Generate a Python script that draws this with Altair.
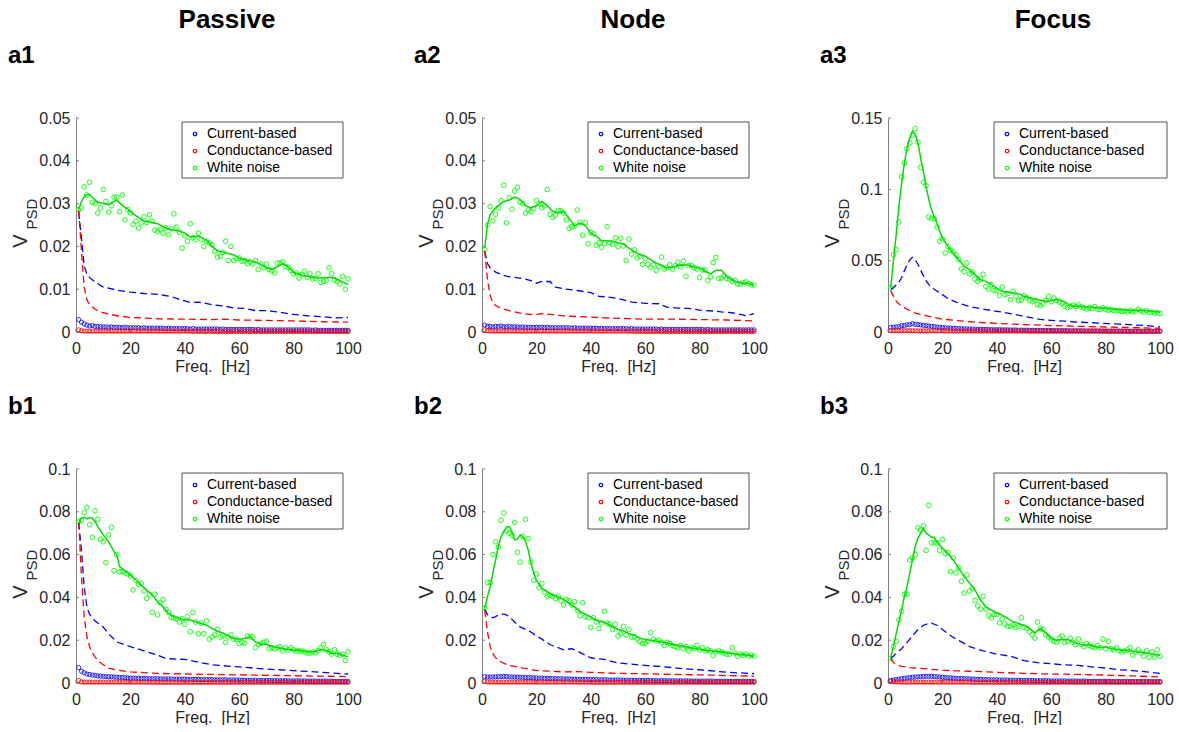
import altair as alt
import pandas as pd

FONT = "Liberation Sans"
FREQ = list(range(1, 101))
XTICKS = [0, 20, 40, 60, 80, 100]
LEGEND_NAMES = ["Current-based", "Conductance-based", "White noise"]
COL_TITLES = ["Passive", "Node", "Focus"]
TAGS = [["a1", "a2", "a3"], ["b1", "b2", "b3"]]
YMAX = [[0.05, 0.05, 0.15], [0.1, 0.1, 0.1]]
YTICKS = [[[0, 0.01, 0.02, 0.03, 0.04, 0.05], [0, 0.01, 0.02, 0.03, 0.04, 0.05], [0, 0.05, 0.1, 0.15]],
          [[0, 0.02, 0.04, 0.06, 0.08, 0.1]] * 3]

# ---------------- a1 : Passive, white-noise row a ----------------
a1_green_pts = [.0286,.0290,.0339,.0320,.0350,.0303,.0300,.0278,.0290,.0333,
                .0305,.0280,.0295,.0315,.0315,.0281,.0320,.0262,.0286,.0278,
                .0251,.0259,.0243,.0255,.0269,.0256,.0274,.0259,.0238,.0235,
                .0239,.0231,.0243,.0227,.0241,.0276,.0245,.0233,.0196,.0224,
                .0212,.0253,.0220,.0216,.0231,.0216,.0200,.0212,.0208,.0204,
                .0188,.0175,.0177,.0186,.0212,.0167,.0200,.0167,.0171,.0173,
                .0165,.0167,.0160,.0164,.0159,.0167,.0146,.0159,.0150,.0159,
                .0146,.0142,.0138,.0161,.0161,.0164,.0153,.0151,.0144,.0136,
                .0138,.0126,.0134,.0142,.0128,.0136,.0124,.0125,.0136,.0116,
                .0118,.0120,.0150,.0136,.0122,.0118,.0112,.0130,.0100,.0124]
a1_green_f = [1,2,3,4,5,6,8,10,12,14,15,17,20,22,25,28,30,33,35,38,40,42,45,48,50,52,55,58,60,63,65,68,70,72,74,76,78,80,83,85,88,90,93,95,98,100]
a1_green_v = [.0287,.0305,.0316,.0321,.0322,.0315,.0303,.0300,.0298,.0305,.0308,.0296,.0282,.0272,.0259,.0256,.0253,.0243,.0239,.0236,.0231,.0222,.0224,.0214,.0200,.0190,.0185,.0180,.0173,.0167,.0165,.0158,.0150,.0146,.0152,.0160,.0152,.0139,.0133,.0130,.0127,.0126,.0128,.0126,.0117,.0111]
a1_blue_f = [1,2,3,4,5,7,10,15,20,25,30,35,38,42,45,50,55,58,62,66,70,75,80,85,90,95,100]
a1_blue_v = [.0280,.0220,.0155,.0135,.0127,.0117,.0105,.0098,.0093,.0090,.0088,.0083,.0076,.0069,.0070,.0064,.0060,.0056,.0055,.0050,.0050,.0046,.0041,.0038,.0036,.0033,.0034]
a1_red_f = [1,2,3,4,5,7,9,12,15,20,30,40,50,55,60,70,80,90,100]
a1_red_v = [.0285,.0190,.0105,.0075,.0064,.0053,.0047,.0042,.0038,.0034,.0031,.0030,.0029,.0030,.0028,.0027,.0026,.0024,.0023]
a1_blue_pts = [.0029,.0023,.0019,.0016,.0014,.0015,.0013,.0013,.0012,.0012,
               .0012,.0011,.0012,.0011,.0011,.0011,.0010,.0011,.0010,.0010,
               .0010,.0010,.0010,.0009,.0010,.0009,.0009,.0009,.0009,.0009,
               .0009,.0009,.0008,.0009,.0008,.0008,.0008,.0008,.0008,.0008,
               .0008,.0007,.0008,.0007,.0007,.0007,.0007,.0007,.0007,.0007,
               .0007,.0007,.0006,.0007,.0006,.0006,.0006,.0006,.0006,.0006,
               .0006,.0006,.0006,.0006,.0006,.0005,.0006,.0005,.0005,.0005,
               .0005,.0005,.0005,.0005,.0005,.0005,.0005,.0005,.0005,.0005,
               .0005,.0005,.0005,.0005,.0005,.0005,.0004,.0005,.0004,.0004,
               .0004,.0004,.0004,.0004,.0004,.0004,.0004,.0004,.0004,.0004]
a1_red_pts = [.0005,.0003,.0002,.0002,.0002,.0002,.0002,.0002,.0002,.0002,
              .0002,.0002,.0002,.0002,.0002,.0002,.0002,.0002,.0002,.0002,
              .0002,.0002,.0002,.0002,.0002,.0002,.0002,.0002,.0002,.0002,
              .0002,.0002,.0002,.0002,.0002,.0002,.0002,.0002,.0002,.0002,
              .0002,.0002,.0001,.0002,.0001,.0002,.0001,.0001,.0002,.0001,
              .0001,.0001,.0001,.0001,.0001,.0001,.0001,.0001,.0001,.0001,
              .0001,.0001,.0001,.0001,.0001,.0001,.0001,.0001,.0001,.0001,
              .0001,.0001,.0001,.0001,.0001,.0001,.0001,.0001,.0001,.0001,
              .0001,.0001,.0001,.0001,.0001,.0001,.0001,.0001,.0001,.0001,
              .0001,.0001,.0001,.0001,.0001,.0001,.0001,.0001,.0001,.0001]

# ---------------- a2 : Node ----------------
a2_green_pts = [.0192,.0250,.0293,.0260,.0275,.0290,.0307,.0343,.0255,.0314,
                .0287,.0329,.0338,.0303,.0300,.0278,.0285,.0281,.0288,.0307,
                .0300,.0290,.0295,.0333,.0275,.0268,.0273,.0284,.0283,.0278,
                .0262,.0242,.0246,.0248,.0285,.0256,.0226,.0256,.0206,.0232,
                .0229,.0203,.0208,.0198,.0206,.0246,.0209,.0205,.0220,.0199,
                .0219,.0201,.0167,.0217,.0182,.0192,.0173,.0177,.0158,.0172,
                .0158,.0151,.0157,.0144,.0153,.0175,.0147,.0150,.0157,.0147,
                .0155,.0163,.0152,.0166,.0130,.0155,.0156,.0150,.0147,.0127,
                .0145,.0145,.0120,.0128,.0162,.0174,.0125,.0126,.0131,.0125,
                .0124,.0118,.0121,.0112,.0112,.0115,.0117,.0113,.0110,.0110]
a2_green_f = [1,2,3,5,8,10,12,14,16,18,20,22,24,26,28,30,32,34,36,38,40,42,44,46,48,50,52,54,56,58,60,62,64,66,68,70,72,74,76,78,80,82,84,86,88,90,92,94,96,98,100]
a2_green_v = [.0196,.0251,.0274,.0290,.0305,.0308,.0315,.0310,.0295,.0290,.0295,.0305,.0295,.0282,.0278,.0282,.0266,.0248,.0255,.0248,.0231,.0224,.0213,.0213,.0212,.0208,.0206,.0196,.0188,.0181,.0177,.0169,.0161,.0156,.0150,.0151,.0156,.0157,.0156,.0152,.0150,.0142,.0136,.0144,.0144,.0130,.0122,.0116,.0114,.0114,.0109]
a2_blue_f = [1,2,3,5,8,10,15,18,20,22,25,27,30,35,40,43,46,50,55,60,65,68,72,76,80,85,88,92,95,97,100]
a2_blue_v = [.0188,.0160,.0150,.0140,.0132,.0129,.0125,.0120,.0114,.0118,.0118,.0105,.0101,.0097,.0092,.0083,.0082,.0078,.0070,.0067,.0066,.0058,.0056,.0055,.0051,.0049,.0047,.0045,.0041,.0038,.0043]
a2_red_f = [1,2,3,4,5,7,10,15,19,22,25,31,40,45,50,60,70,80,90,100]
a2_red_v = [.0190,.0122,.0085,.0068,.0062,.0055,.0050,.0043,.0040,.0043,.0041,.0037,.0035,.0033,.0032,.0030,.0030,.0029,.0028,.0026]
a2_blue_pts = [.0016,.0013,.0013,.0012,.0013,.0013,.0014,.0012,.0012,.0013,
               .0012,.0012,.0012,.0011,.0012,.0011,.0011,.0011,.0011,.0011,
               .0011,.0011,.0010,.0011,.0010,.0010,.0010,.0010,.0010,.0010,
               .0010,.0010,.0009,.0010,.0009,.0009,.0009,.0009,.0009,.0009,
               .0009,.0009,.0008,.0009,.0008,.0008,.0008,.0008,.0008,.0008,
               .0008,.0008,.0008,.0007,.0008,.0007,.0007,.0007,.0007,.0007,
               .0007,.0007,.0007,.0007,.0006,.0007,.0006,.0006,.0006,.0006,
               .0006,.0006,.0006,.0006,.0006,.0006,.0006,.0006,.0006,.0006,
               .0006,.0005,.0006,.0005,.0005,.0005,.0005,.0005,.0005,.0005,
               .0005,.0005,.0005,.0005,.0005,.0005,.0005,.0005,.0005,.0005]
a2_red_pts = [.0005,.0003,.0002,.0002,.0002,.0002,.0002,.0002,.0002,.0002,
              .0002,.0002,.0002,.0002,.0002,.0002,.0002,.0002,.0002,.0002,
              .0002,.0002,.0002,.0002,.0002,.0002,.0002,.0002,.0002,.0002,
              .0002,.0002,.0002,.0002,.0002,.0002,.0002,.0002,.0002,.0002,
              .0002,.0002,.0002,.0002,.0002,.0002,.0002,.0002,.0002,.0002,
              .0002,.0002,.0002,.0002,.0002,.0001,.0002,.0001,.0002,.0001,
              .0001,.0001,.0001,.0001,.0001,.0001,.0001,.0001,.0001,.0001,
              .0001,.0001,.0001,.0001,.0001,.0001,.0001,.0001,.0001,.0001,
              .0001,.0001,.0001,.0001,.0001,.0001,.0001,.0001,.0001,.0001,
              .0001,.0001,.0001,.0001,.0001,.0001,.0001,.0001,.0001,.0001]

# ---------------- a3 : Focus ----------------
a3_green_pts = [.0310,.0542,.0577,.0771,.1086,.1185,.1285,.1325,.1380,.1425,
                .1330,.1154,.1050,.1026,.0806,.0794,.0794,.0736,.0636,.0652,
                .0554,.0600,.0572,.0560,.0540,.0507,.0442,.0425,.0484,.0407,
                .0420,.0371,.0355,.0371,.0404,.0320,.0301,.0332,.0290,.0290,
                .0255,.0315,.0262,.0269,.0227,.0285,.0250,.0220,.0222,.0255,
                .0240,.0222,.0212,.0222,.0192,.0185,.0200,.0220,.0250,.0212,
                .0238,.0220,.0210,.0200,.0182,.0172,.0180,.0188,.0178,.0190,
                .0176,.0168,.0162,.0170,.0165,.0178,.0160,.0158,.0170,.0160,
                .0152,.0158,.0150,.0148,.0152,.0145,.0146,.0140,.0150,.0142,
                .0145,.0160,.0148,.0140,.0150,.0136,.0138,.0132,.0135,.0130]
a3_green_f = [1,2,3,4,5,6,7,8,9,10,11,12,13,14,15,16,17,18,19,20,22,24,26,28,30,32,34,36,38,40,42,44,46,48,50,54,58,60,62,64,66,68,70,75,80,85,90,95,100]
a3_green_v = [.0310,.0500,.0680,.0880,.1040,.1180,.1290,.1360,.1407,.1385,.1325,.1220,.1126,.1020,.0928,.0857,.0810,.0764,.0706,.0659,
              .0600,.0554,.0507,.0460,.0437,.0402,.0367,.0355,.0332,.0308,.0285,.0278,.0273,.0269,.0250,
              .0231,.0215,.0220,.0227,.0220,.0199,.0180,.0180,.0173,.0166,.0157,.0150,.0150,.0138]
a3_blue_f = [1,2,3,4,5,6,7,8,9,10,11,12,13,14,15,17,20,22,25,28,30,35,40,44,50,56,60,65,69,75,81,85,90,95,100]
a3_blue_v = [.0300,.0310,.0330,.0350,.0380,.0430,.0470,.0505,.0523,.0505,.0475,.0435,.0395,.0360,.0332,
             .0300,.0262,.0235,.0210,.0190,.0178,.0160,.0145,.0133,.0110,
             .0088,.0082,.0076,.0070,.0065,.0058,.0055,.0050,.0045,.0035]
a3_red_f = [1,2,3,5,8,10,15,20,30,40,50,60,70,80,90,100]
a3_red_v = [.0290,.0250,.0215,.0180,.0150,.0133,.0110,.0090,.0072,.0060,.0052,.0045,.0040,.0035,.0031,.0026]
a3_blue_pts = [.0033,.0034,.0036,.0038,.0044,.0046,.0050,.0052,.0058,.0054,
               .0052,.0050,.0047,.0045,.0042,.0040,.0037,.0035,.0033,.0031,
               .0030,.0028,.0027,.0026,.0025,.0024,.0023,.0022,.0022,.0021,
               .0020,.0020,.0019,.0019,.0018,.0018,.0017,.0017,.0016,.0016,
               .0016,.0015,.0015,.0015,.0014,.0014,.0014,.0013,.0013,.0013,
               .0013,.0012,.0012,.0012,.0012,.0011,.0011,.0011,.0011,.0011,
               .0010,.0010,.0010,.0010,.0010,.0009,.0009,.0009,.0009,.0009,
               .0009,.0008,.0008,.0008,.0008,.0008,.0008,.0008,.0007,.0007,
               .0007,.0007,.0007,.0007,.0007,.0007,.0007,.0006,.0006,.0006,
               .0006,.0006,.0006,.0006,.0006,.0006,.0006,.0006,.0006,.0006]
a3_red_pts = [.0010,.0009,.0009,.0009,.0009,.0009,.0009,.0009,.0009,.0008,
              .0008,.0008,.0008,.0008,.0008,.0008,.0008,.0008,.0008,.0008,
              .0007,.0007,.0007,.0007,.0007,.0007,.0007,.0007,.0007,.0007,
              .0006,.0006,.0006,.0006,.0006,.0006,.0006,.0006,.0006,.0006,
              .0006,.0006,.0006,.0006,.0006,.0006,.0006,.0006,.0006,.0006,
              .0005,.0005,.0005,.0005,.0005,.0005,.0005,.0005,.0005,.0005,
              .0005,.0005,.0005,.0005,.0005,.0005,.0005,.0005,.0005,.0005,
              .0005,.0005,.0005,.0005,.0005,.0005,.0005,.0005,.0005,.0005,
              .0004,.0004,.0004,.0004,.0004,.0004,.0004,.0004,.0004,.0004,
              .0004,.0004,.0004,.0004,.0004,.0004,.0004,.0004,.0004,.0004]

# ---------------- b1 : Passive ----------------
b1_green_pts = [.0753,.0760,.0795,.0820,.0740,.0681,.0805,.0765,.0672,.0660,
                .0563,.0692,.0728,.0525,.0600,.0520,.0520,.0515,.0510,.0500,
                .0435,.0480,.0460,.0465,.0430,.0395,.0415,.0330,.0415,.0318,
                .0375,.0390,.0345,.0330,.0305,.0305,.0300,.0285,.0300,.0275,
                .0310,.0240,.0330,.0285,.0230,.0280,.0230,.0290,.0205,.0215,
                .0225,.0250,.0215,.0220,.0190,.0215,.0225,.0205,.0205,.0185,
                .0190,.0185,.0220,.0215,.0215,.0165,.0180,.0185,.0190,.0195,
                .0160,.0165,.0160,.0165,.0170,.0150,.0165,.0155,.0165,.0155,
                .0150,.0150,.0150,.0145,.0140,.0140,.0145,.0140,.0150,.0165,
                .0180,.0155,.0145,.0135,.0155,.0135,.0130,.0135,.0105,.0145]
b1_green_f = [1,2,3,4,5,6,7,8,10,12,14,15,16,18,20,22,24,26,28,30,32,34,36,38,40,42,44,46,48,50,52,54,56,58,60,62,64,66,68,70,72,74,76,78,80,82,84,86,88,90,92,94,96,98,100]
b1_green_v = [.0747,.0770,.0773,.0767,.0773,.0770,.0755,.0731,.0692,.0660,.0614,.0598,.0544,.0525,
              .0505,.0481,.0458,.0434,.0411,.0380,.0356,.0325,.0309,.0302,
              .0294,.0294,.0286,.0278,.0270,.0255,.0242,.0234,.0219,.0208,
              .0205,.0208,.0216,.0192,.0181,.0181,.0172,.0166,.0161,.0156,
              .0153,.0153,.0148,.0145,.0148,.0156,.0153,.0138,.0138,.0130,.0122]
b1_blue_f = [1,2,3,4,5,7,10,12,15,20,25,30,33,40,50,60,70,80,90,100]
b1_blue_v = [.0750,.0620,.0450,.0356,.0320,.0290,.0262,.0230,.0192,.0170,.0150,.0130,.0114,.0110,.0085,.0075,.0065,.0058,.0050,.0042]
b1_red_f = [1,2,3,4,5,6,7,8,10,12,15,20,30,40,50,60,70,80,90,100]
b1_red_v = [.0750,.0500,.0310,.0216,.0170,.0140,.0122,.0105,.0085,.0070,.0060,.0052,.0045,.0042,.0040,.0038,.0036,.0034,.0032,.0030]
b1_blue_pts = [.0072,.0055,.0048,.0042,.0040,.0037,.0036,.0033,.0032,.0031,
               .0030,.0029,.0029,.0028,.0027,.0026,.0026,.0025,.0024,.0023,
               .0023,.0022,.0022,.0021,.0021,.0021,.0020,.0020,.0020,.0020,
               .0019,.0019,.0019,.0019,.0019,.0018,.0018,.0018,.0018,.0018,
               .0017,.0017,.0017,.0017,.0017,.0016,.0016,.0016,.0016,.0016,
               .0015,.0015,.0015,.0015,.0015,.0014,.0014,.0014,.0014,.0014,
               .0013,.0013,.0013,.0013,.0013,.0013,.0012,.0012,.0012,.0012,
               .0012,.0011,.0011,.0011,.0011,.0011,.0011,.0010,.0010,.0010,
               .0010,.0010,.0010,.0010,.0009,.0009,.0009,.0009,.0009,.0009,
               .0009,.0009,.0008,.0008,.0008,.0008,.0008,.0008,.0008,.0008]
b1_red_pts = [.0012,.0005,.0004,.0004,.0004,.0004,.0004,.0004,.0004,.0004,
              .0004,.0004,.0004,.0004,.0004,.0004,.0004,.0004,.0004,.0004,
              .0004,.0004,.0004,.0004,.0004,.0003,.0004,.0003,.0004,.0003,
              .0003,.0003,.0003,.0003,.0003,.0003,.0003,.0003,.0003,.0003,
              .0003,.0003,.0003,.0003,.0003,.0003,.0003,.0003,.0003,.0003,
              .0003,.0003,.0003,.0003,.0003,.0003,.0003,.0003,.0003,.0003,
              .0003,.0003,.0003,.0003,.0003,.0003,.0003,.0003,.0003,.0003,
              .0003,.0003,.0003,.0003,.0003,.0003,.0003,.0003,.0003,.0003,
              .0003,.0003,.0003,.0003,.0003,.0003,.0003,.0003,.0003,.0003,
              .0003,.0003,.0003,.0003,.0003,.0003,.0003,.0003,.0003,.0003]

# ---------------- b2 : Node ----------------
b2_green_pts = [.0350,.0470,.0470,.0600,.0660,.0635,.0760,.0795,.0710,.0700,
                .0690,.0750,.0610,.0565,.0685,.0765,.0675,.0565,.0480,.0510,
                .0445,.0465,.0425,.0405,.0410,.0405,.0395,.0405,.0385,.0365,
                .0390,.0385,.0365,.0380,.0340,.0315,.0375,.0310,.0305,.0260,
                .0305,.0285,.0255,.0280,.0335,.0280,.0275,.0250,.0275,.0220,
                .0230,.0265,.0225,.0250,.0215,.0215,.0205,.0195,.0185,.0185,
                .0195,.0235,.0205,.0195,.0200,.0190,.0175,.0190,.0185,.0175,
                .0170,.0165,.0175,.0160,.0170,.0150,.0165,.0160,.0175,.0155,
                .0165,.0150,.0155,.0150,.0130,.0145,.0150,.0145,.0140,.0135,
                .0135,.0165,.0140,.0125,.0135,.0130,.0135,.0125,.0130,.0125]
b2_green_f = [1,2,3,4,5,6,7,8,9,10,11,12,13,14,15,16,17,18,19,20,
              22,24,26,28,30,32,34,36,38,40,42,44,46,48,50,52,54,56,58,60,62,64,66,68,70,
              74,78,82,86,90,94,98,100]
b2_green_v = [.0348,.0403,.0450,.0513,.0575,.0638,.0684,.0708,.0728,.0731,.0708,.0669,.0672,.0692,.0684,.0661,.0622,.0559,.0513,.0481,
              .0442,.0427,.0411,.0403,.0391,.0372,.0356,.0333,.0322,.0309,.0294,.0286,.0278,.0263,.0250,.0244,.0231,.0223,.0211,.0203,.0200,.0195,.0192,.0188,.0181,
              .0172,.0161,.0153,.0148,.0141,.0134,.0130,.0125]
b2_blue_f = [1,2,3,4,5,6,7,8,9,10,12,14,16,18,20,22,25,28,30,33,35,38,40,45,50,55,61,65,70,74,80,86,90,95,100]
b2_blue_v = [.0345,.0320,.0310,.0305,.0310,.0318,.0322,.0322,.0318,.0310,
             .0285,.0262,.0250,.0238,.0220,.0205,.0180,.0165,.0155,.0160,.0150,.0130,.0118,.0110,.0094,.0088,
             .0081,.0078,.0072,.0067,.0062,.0055,.0050,.0047,.0044]
b2_red_f = [1,2,3,4,5,7,10,15,20,25,30,35,40,50,60,70,80,90,100]
b2_red_v = [.0340,.0240,.0170,.0137,.0118,.0098,.0082,.0070,.0058,.0055,.0052,.0053,.0050,.0045,.0043,.0040,.0038,.0035,.0032]
b2_blue_pts = [.0030,.0028,.0028,.0028,.0029,.0029,.0030,.0031,.0030,.0029,
               .0028,.0028,.0027,.0027,.0026,.0026,.0025,.0025,.0024,.0024,
               .0023,.0023,.0022,.0022,.0021,.0021,.0020,.0020,.0020,.0019,
               .0019,.0019,.0018,.0018,.0018,.0017,.0017,.0017,.0016,.0016,
               .0016,.0016,.0015,.0015,.0015,.0015,.0014,.0014,.0014,.0014,
               .0014,.0013,.0013,.0013,.0013,.0013,.0012,.0012,.0012,.0012,
               .0012,.0012,.0011,.0011,.0011,.0011,.0011,.0011,.0010,.0010,
               .0010,.0010,.0010,.0010,.0010,.0010,.0009,.0009,.0009,.0009,
               .0009,.0009,.0009,.0009,.0009,.0008,.0008,.0008,.0008,.0008,
               .0008,.0008,.0008,.0008,.0008,.0008,.0008,.0008,.0008,.0008]
b2_red_pts = [.0008,.0005,.0004,.0004,.0004,.0004,.0004,.0004,.0004,.0004,
              .0004,.0004,.0004,.0004,.0004,.0004,.0004,.0004,.0004,.0004,
              .0004,.0004,.0004,.0004,.0004,.0004,.0004,.0004,.0004,.0004,
              .0004,.0004,.0004,.0004,.0004,.0003,.0004,.0003,.0004,.0003,
              .0003,.0003,.0003,.0003,.0003,.0003,.0003,.0003,.0003,.0003,
              .0003,.0003,.0003,.0003,.0003,.0003,.0003,.0003,.0003,.0003,
              .0003,.0003,.0003,.0003,.0003,.0003,.0003,.0003,.0003,.0003,
              .0003,.0003,.0003,.0003,.0003,.0003,.0003,.0003,.0003,.0003,
              .0003,.0003,.0003,.0003,.0003,.0003,.0003,.0003,.0003,.0003,
              .0003,.0003,.0003,.0003,.0003,.0003,.0003,.0003,.0003,.0003]

# ---------------- b3 : Focus ----------------
b3_green_pts = [.0115,.0170,.0195,.0295,.0335,.0415,.0415,.0575,.0585,.0600,
                .0725,.0715,.0735,.0620,.0830,.0655,.0655,.0655,.0620,.0670,
                .0605,.0610,.0520,.0585,.0515,.0540,.0475,.0420,.0505,.0430,
                .0440,.0385,.0360,.0345,.0405,.0345,.0315,.0305,.0320,.0320,
                .0280,.0300,.0275,.0265,.0265,.0270,.0260,.0265,.0305,.0260,
                .0255,.0240,.0225,.0210,.0285,.0255,.0250,.0225,.0215,.0205,
                .0195,.0190,.0210,.0220,.0190,.0195,.0210,.0190,.0180,.0205,
                .0180,.0170,.0185,.0175,.0170,.0165,.0175,.0165,.0205,.0160,
                .0195,.0160,.0155,.0165,.0150,.0145,.0150,.0155,.0165,.0130,
                .0145,.0155,.0140,.0125,.0150,.0120,.0145,.0120,.0155,.0125]
b3_green_f = [1,2,3,4,5,6,7,8,9,10,11,12,13,14,15,16,17,18,19,20,
              22,24,26,28,30,32,34,36,38,40,42,44,46,48,50,52,54,56,58,60,
              62,64,66,68,70,72,74,76,78,80,82,84,86,88,90,92,94,96,98,100]
b3_green_v = [.0119,.0169,.0231,.0286,.0341,.0403,.0450,.0513,.0575,.0638,.0677,.0700,.0723,.0700,.0692,.0681,.0681,.0661,.0645,.0630,
              .0606,.0575,.0536,.0497,.0466,.0434,.0388,.0356,.0341,.0328,.0317,.0302,.0286,.0278,.0270,.0255,.0234,.0255,.0234,.0208,
              .0200,.0203,.0203,.0192,.0184,.0177,.0177,.0169,.0166,.0169,.0161,.0156,.0153,.0153,.0148,.0145,.0141,.0138,.0134,.0130]
b3_blue_f = [1,2,3,5,7,9,11,13,15,16,18,20,22,25,28,30,35,40,45,50,55,60,65,70,75,80,85,90,95,100]
b3_blue_v = [.0115,.0125,.0140,.0160,.0190,.0220,.0250,.0270,.0278,.0280,.0270,.0250,.0230,.0205,.0185,.0170,.0150,.0135,.0125,.0105,.0095,.0090,.0085,.0082,.0075,.0070,.0062,.0058,.0052,.0045]
b3_red_f = [1,2,3,5,8,10,15,20,25,30,40,50,60,70,80,90,100]
b3_red_v = [.0115,.0095,.0085,.0078,.0072,.0070,.0065,.0060,.0057,.0055,.0050,.0045,.0042,.0040,.0037,.0033,.0028]
b3_blue_pts = [.0012,.0014,.0016,.0018,.0020,.0022,.0024,.0026,.0027,.0028,
               .0029,.0030,.0031,.0031,.0031,.0031,.0030,.0029,.0028,.0027,
               .0026,.0025,.0024,.0023,.0022,.0021,.0021,.0020,.0020,.0019,
               .0018,.0018,.0017,.0017,.0016,.0016,.0016,.0015,.0015,.0015,
               .0014,.0014,.0014,.0014,.0013,.0013,.0013,.0013,.0012,.0012,
               .0012,.0012,.0012,.0011,.0011,.0011,.0011,.0011,.0010,.0010,
               .0010,.0010,.0010,.0010,.0010,.0009,.0009,.0009,.0009,.0009,
               .0009,.0009,.0009,.0008,.0008,.0008,.0008,.0008,.0008,.0008,
               .0008,.0008,.0007,.0007,.0007,.0007,.0007,.0007,.0007,.0007,
               .0007,.0007,.0007,.0007,.0007,.0007,.0007,.0007,.0007,.0007]
b3_red_pts = [.0008,.0006,.0005,.0005,.0004,.0004,.0004,.0004,.0004,.0004,
              .0004,.0004,.0004,.0004,.0004,.0004,.0004,.0004,.0004,.0004,
              .0004,.0004,.0004,.0004,.0004,.0004,.0004,.0004,.0004,.0004,
              .0003,.0003,.0003,.0003,.0003,.0003,.0003,.0003,.0003,.0003,
              .0003,.0003,.0003,.0003,.0003,.0003,.0003,.0003,.0003,.0003,
              .0003,.0003,.0003,.0003,.0003,.0003,.0003,.0003,.0003,.0003,
              .0003,.0003,.0003,.0003,.0003,.0003,.0003,.0003,.0003,.0003,
              .0003,.0003,.0003,.0003,.0003,.0003,.0003,.0003,.0003,.0003,
              .0003,.0003,.0003,.0003,.0003,.0003,.0003,.0003,.0003,.0003,
              .0003,.0003,.0003,.0003,.0003,.0003,.0003,.0003,.0003,.0003]

PANELS = [
    [(a1_green_pts, a1_green_f, a1_green_v, a1_blue_f, a1_blue_v, a1_red_f, a1_red_v, a1_blue_pts, a1_red_pts),
     (a2_green_pts, a2_green_f, a2_green_v, a2_blue_f, a2_blue_v, a2_red_f, a2_red_v, a2_blue_pts, a2_red_pts),
     (a3_green_pts, a3_green_f, a3_green_v, a3_blue_f, a3_blue_v, a3_red_f, a3_red_v, a3_blue_pts, a3_red_pts)],
    [(b1_green_pts, b1_green_f, b1_green_v, b1_blue_f, b1_blue_v, b1_red_f, b1_red_v, b1_blue_pts, b1_red_pts),
     (b2_green_pts, b2_green_f, b2_green_v, b2_blue_f, b2_blue_v, b2_red_f, b2_red_v, b2_blue_pts, b2_red_pts),
     (b3_green_pts, b3_green_f, b3_green_v, b3_blue_f, b3_blue_v, b3_red_f, b3_red_v, b3_blue_pts, b3_red_pts)],
]

# ---------------- styling ----------------
C_BLUE, C_RED, C_GREEN, C_GLINE = "#0000ff", "#ff0000", "#00ff00", "#00dd00"
AXC, TXT = "#808080", "#262626"
W, H = 272, 214
LEG_RIGHT = [267, 267, 279]
TITLE_X = [151, 151, 165]
ONE = alt.Data(values=[{"k": 0}])


def df(f, v):
    return pd.DataFrame({"f": f, "v": v})


def panel(r, c):
    gp, gf, gv, bf, bv, rf, rv, bp, rp = PANELS[r][c]
    X = alt.X("f:Q", scale=alt.Scale(domain=[0, 100], nice=False, zero=False),
              axis=alt.Axis(values=XTICKS, title="Freq.\u00a0 [Hz]", labelFlush=False, format="d"))
    Y = alt.Y("v:Q", scale=alt.Scale(domain=[0, YMAX[r][c]], nice=False),
              axis=alt.Axis(values=YTICKS[r][c], format=".2~g", title=None, labelFlush=False))
    layers = []
    # inward ticks (MATLAB style)
    layers.append(alt.Chart(pd.DataFrame({"v": YTICKS[r][c]})).mark_rule(color=AXC, strokeWidth=1)
                  .encode(y=Y, x=alt.value(0), x2=alt.value(3)))
    layers.append(alt.Chart(pd.DataFrame({"f": XTICKS})).mark_rule(color=AXC, strokeWidth=1)
                  .encode(x=X, y=alt.value(H), y2=alt.value(H - 3)))
    # scatter points
    layers.append(alt.Chart(df(FREQ, bp)).mark_point(shape="circle", filled=False, size=18, strokeWidth=0.8, color=C_BLUE, opacity=1)
                  .encode(x=X, y=Y))
    layers.append(alt.Chart(df(FREQ, rp)).mark_point(shape="circle", filled=False, size=18, strokeWidth=0.8, color=C_RED, opacity=1)
                  .encode(x=X, y=Y))
    layers.append(alt.Chart(df(FREQ, gp)).mark_point(shape="circle", filled=False, size=22, strokeWidth=0.9, color=C_GREEN, opacity=1)
                  .encode(x=X, y=Y))
    # fitted curves
    layers.append(alt.Chart(df(bf, bv)).mark_line(color=C_BLUE, strokeWidth=1.3, strokeDash=[7, 4])
                  .encode(x=X, y=Y))
    layers.append(alt.Chart(df(rf, rv)).mark_line(color=C_RED, strokeWidth=1.3, strokeDash=[7, 4])
                  .encode(x=X, y=Y))
    layers.append(alt.Chart(df(gf, gv)).mark_line(color=C_GLINE, strokeWidth=1.5)
                  .encode(x=X, y=Y))
    # legend box
    layers.append(alt.Chart(ONE).mark_rect(fill="white", stroke="#262626", strokeWidth=0.8)
                  .encode(x=alt.value(106), x2=alt.value(LEG_RIGHT[c]), y=alt.value(4), y2=alt.value(60)))
    for name, col, yy in zip(LEGEND_NAMES, [C_BLUE, C_RED, C_GREEN], [16, 33, 50]):
        layers.append(alt.Chart(ONE).mark_point(shape="circle", filled=False, size=12, strokeWidth=1.2, color=col, opacity=1)
                      .encode(x=alt.value(119), y=alt.value(yy)))
        layers.append(alt.Chart(ONE).mark_text(align="left", baseline="middle", font=FONT, fontSize=14, color="#000000")
                      .encode(x=alt.value(131), y=alt.value(yy), text=alt.value(name)))
    # y label V_PSD
    layers.append(alt.Chart(ONE).mark_text(angle=270, align="center", baseline="alphabetic", font=FONT, fontSize=20, color=TXT)
                  .encode(x=alt.value(-49), y=alt.value(123), text=alt.value("V")))
    layers.append(alt.Chart(ONE).mark_text(angle=270, align="center", baseline="alphabetic", font=FONT, fontSize=15, color=TXT)
                  .encode(x=alt.value(-39), y=alt.value(96), text=alt.value("PSD")))
    # panel tag
    layers.append(alt.Chart(ONE).mark_text(align="left", baseline="alphabetic", font=FONT, fontSize=24, fontWeight="bold", color="#000000")
                  .encode(x=alt.value(-68), y=alt.value(-55), text=alt.value(TAGS[r][c])))
    if r == 0:
        layers.append(alt.Chart(ONE).mark_text(align="center", baseline="alphabetic", font=FONT, fontSize=26, fontWeight="bold", color="#000000")
                      .encode(x=alt.value(TITLE_X[c]), y=alt.value(-90), text=alt.value(COL_TITLES[c])))
        if c == 0:
            layers.append(alt.Chart(ONE).mark_rule(opacity=0, strokeWidth=0)
                          .encode(x=alt.value(-76), x2=alt.value(-76), y=alt.value(-118), y2=alt.value(-118)))
    return alt.layer(*layers).properties(width=W, height=H)


panels = [panel(r, c) for r in range(2) for c in range(3)]
chart = (
    alt.concat(*panels, columns=3, spacing=alt.RowColnumber(row=137, column=134), bounds="flush")
    .properties(padding=0)
    .configure_view(stroke=None)
    .configure_axis(domainColor=AXC, domainWidth=1, ticks=False, tickSize=0, grid=False,
                    labelFont=FONT, labelFontSize=16, labelColor=TXT,
                    titleFont=FONT, titleFontSize=16, titleFontWeight="normal", titleColor=TXT)
    .configure_axisX(labelPadding=8, titlePadding=2)
    .configure_axisY(labelPadding=6)
)

chart.save("out.html", embed_options={"renderer": "svg", "actions": False})
